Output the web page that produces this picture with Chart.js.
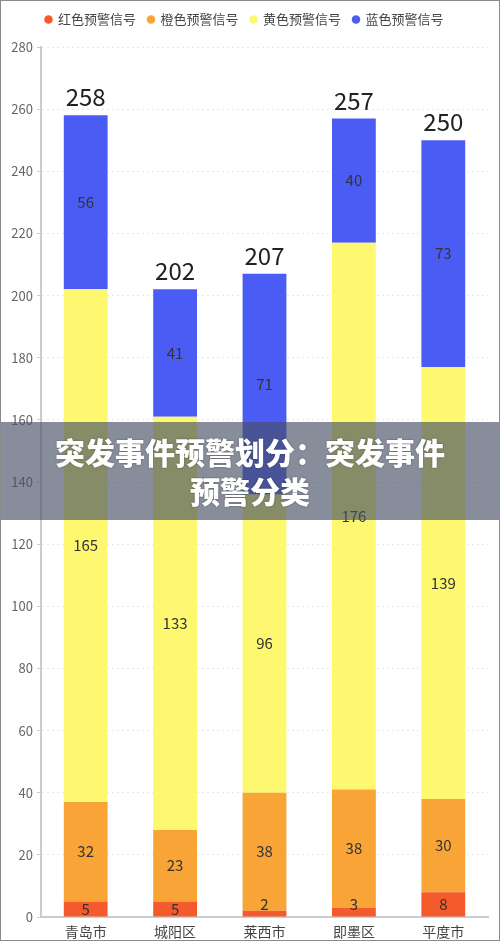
<!DOCTYPE html>
<html>
<head>
<meta charset="utf-8">
<script src="https://cdn.jsdelivr.net/npm/chart.js@4/dist/chart.umd.min.js"></script>
<style>
  html, body { margin: 0; padding: 0; background: #fff; }
  #wrap { position: relative; width: 500px; height: 941px; box-sizing: border-box; border: 1px solid #8a8a8a; }
  #banner {
    position: absolute; left: 0; top: 421px; width: 100%; height: 98px;
    background: rgba(70, 80, 100, 0.65);
    color: #fff; text-align: center;
    font-family: "Noto Sans CJK SC", sans-serif; font-weight: 900; font-size: 30px;
    line-height: 39px; padding-top: 10px; box-sizing: border-box;
    text-shadow: 0 0 2px rgba(0,0,0,0.4);
  }
</style>
</head>
<body>
<div id="wrap">
  <canvas id="c"></canvas>
  <div id="banner">突发事件预警划分：突发事件<br>预警分类</div>
</div>
<script>
// ---- Data ----
const cities = ['青岛市', '城阳区', '莱西市', '即墨区', '平度市'];
const redSignal = [5, 5, 2, 3, 8];
const orangeSignal = [32, 23, 38, 38, 30];
const yellowSignal = [165, 133, 96, 176, 139];
const blueSignal = [56, 41, 71, 40, 73];
const seriesNames = ['红色预警信号', '橙色预警信号', '黄色预警信号', '蓝色预警信号'];
const seriesColors = ['#f45a2b', '#f8a436', '#fdf870', '#4b5cf5'];

const FONT = "'Noto Sans CJK SC', 'Noto Sans', sans-serif";

// Extra gap between legend and plot
const legendGap = {
  id: 'legendGap',
  beforeInit(chart) {
    const fit = chart.legend.fit;
    chart.legend.fit = function () {
      fit.bind(chart.legend)();
      this.height += 11;
    };
  }
};

// Segment values + stacked totals drawn on top of bars
const barLabels = {
  id: 'barLabels',
  afterDatasetsDraw(chart) {
    const ctx = chart.ctx;
    ctx.save();
    ctx.textAlign = 'center';
    ctx.textBaseline = 'middle';
    ctx.fillStyle = '#333';
    ctx.font = '15px ' + FONT;
    chart.data.datasets.forEach((ds, di) => {
      const meta = chart.getDatasetMeta(di);
      meta.data.forEach((bar, i) => {
        let y = (bar.y + bar.base) / 2;
        if (bar.base - bar.y < 12) y = bar.base - 12;
        ctx.fillText(ds.data[i], bar.x, y);
      });
    });
    // totals
    const last = chart.getDatasetMeta(chart.data.datasets.length - 1);
    ctx.fillStyle = '#222';
    ctx.font = '24px ' + FONT;
    last.data.forEach((bar, i) => {
      const total = chart.data.datasets.reduce((s, ds) => s + ds.data[i], 0);
      ctx.fillText(total, bar.x, bar.y - 18);
    });
    ctx.restore();
  }
};

const datasets = [redSignal, orangeSignal, yellowSignal, blueSignal].map((d, i) => ({
  label: seriesNames[i],
  data: d,
  backgroundColor: seriesColors[i],
  borderWidth: 0,
  barPercentage: 0.7,
  categoryPercentage: 0.7
}));

new Chart(document.getElementById('c'), {
  type: 'bar',
  data: { labels: cities, datasets },
  plugins: [legendGap, barLabels],
  options: {
    responsive: true,
    maintainAspectRatio: false,
    animation: false,
    layout: { padding: { top: 0, right: 11, bottom: 1, left: 0 } },
    plugins: {
      tooltip: { enabled: false },
      legend: {
        position: 'top',
        labels: {
          color: '#444',
          font: { family: FONT, size: 13 },
          usePointStyle: true,
          pointStyle: 'circle',
          boxWidth: 6,
          boxHeight: 6,
          padding: 12
        }
      }
    },
    scales: {
      x: {
        stacked: true,
        afterFit: (scale) => { scale.height = 22; },
        grid: { display: false, drawTicks: false },
        border: { display: true, color: '#ccc', width: 2 },
        ticks: { color: '#444', font: { family: FONT, size: 14, lineHeight: 1 }, padding: 8 }
      },
      y: {
        stacked: true,
        min: 0,
        max: 280,
        afterFit: (scale) => { scale.width = 40; },
        ticks: { stepSize: 20, color: '#666', font: { family: FONT, size: 13 }, padding: 4 },
        grid: { color: '#e8e8e8', tickColor: '#ccc', tickLength: 4 },
        border: { display: true, color: '#ccc', width: 2, dash: [2, 3] }
      }
    }
  }
});
</script>
</body>
</html>
